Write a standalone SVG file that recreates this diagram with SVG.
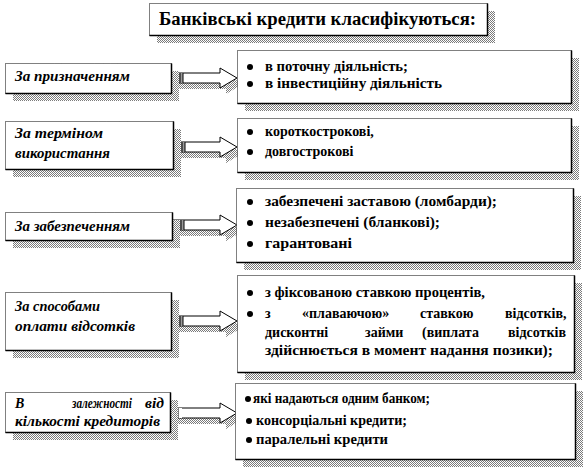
<svg xmlns="http://www.w3.org/2000/svg" width="585" height="471" viewBox="0 0 585 471">
<defs>
<pattern id="dith" width="2" height="2" patternUnits="userSpaceOnUse">
<rect width="2" height="2" fill="#ffffff"/>
<rect x="0" y="0" width="1" height="1" fill="#7a7a7a"/>
<rect x="1" y="1" width="1" height="1" fill="#7a7a7a"/>
</pattern>
</defs>
<style>
.sh{fill:url(#dith);stroke:none}
.bx{fill:#fff;stroke:#000;stroke-width:1;stroke-dasharray:1 1}
.edge{stroke:#000;stroke-width:1.5;fill:none}
.t{font-family:"Liberation Serif","DejaVu Serif",serif;font-weight:bold;font-size:14px;fill:#000}
.l{font-family:"Liberation Serif","DejaVu Serif",serif;font-weight:bold;font-style:italic;font-size:14px;fill:#000}
.ti{font-family:"Liberation Serif","DejaVu Serif",serif;font-weight:bold;font-size:18px;fill:#000}
.ar{fill:#fff;stroke:#000;stroke-width:1}
.st{stroke:#000;stroke-width:1}
.bul{fill:#000}
</style>
<rect width="585" height="471" fill="#fff"/>

<g id="title">
<rect class="sh" x="157" y="11" width="338" height="32"/>
<rect class="bx" x="149.5" y="3.5" width="338" height="32"/>
<path class="edge" d="M487.5,3.5V35.5H149.5"/>
<text class="ti" x="159" y="25" textLength="317" lengthAdjust="spacingAndGlyphs">Банківські кредити класифікуються:</text>
</g>

<g id="connectors">
<path class="sh" d="M177,78H226V74L243,84L226,94V89H177Z"/>
<path class="ar" d="M171.5,73H220V68L237,78L220,88V83H171.5Z"/>
<rect x="172" y="73" width="11" height="10" fill="#999"/>
<path class="st" d="M173,73V83M177,73V83M180,73V83M183,73V83"/>

<path class="sh" d="M179,147H226V143L243,153L226,163V158H179Z"/>
<path class="ar" d="M173.5,142H220V137L237,147L220,157V152H173.5Z"/>
<rect x="174" y="142" width="11" height="10" fill="#999"/>
<path class="st" d="M175,142V152M179,142V152M182,142V152M185,142V152"/>

<path class="sh" d="M178,225H226V221L243,231L226,241V236H178Z"/>
<path class="ar" d="M172.5,220H220V215L237,225L220,235V230H172.5Z"/>
<rect x="173" y="220" width="11" height="10" fill="#999"/>
<path class="st" d="M174,220V230M178,220V230M181,220V230M184,220V230"/>

<path class="sh" d="M177,321H226V317L243,327L226,337V332H177Z"/>
<path class="ar" d="M171.5,316H220V311L237,321L220,331V326H171.5Z"/>
<rect x="172" y="316" width="11" height="10" fill="#999"/>
<path class="st" d="M173,316V326M177,316V326M180,316V326M183,316V326"/>

<path class="sh" d="M176,413H226V409L243,419L226,429V424H176Z"/>
<path class="ar" d="M170.5,408H220V403L237,413L220,423V418H170.5Z"/>
<rect x="171" y="408" width="11" height="10" fill="#fff"/>
<path class="st" d="M172,408V418M175,408V418M178,408V418"/>
</g>

<g id="left1">
<rect class="sh" x="13" y="71" width="166" height="30"/>
<rect class="bx" x="5.5" y="63.5" width="166" height="30"/>
<path class="edge" d="M171.5,63.5V93.5H5.5"/>
<text class="l" x="15" y="81" textLength="115" lengthAdjust="spacingAndGlyphs">За призначенням</text>
</g>

<g id="left2">
<rect class="sh" x="13" y="129" width="168" height="48"/>
<rect class="bx" x="5.5" y="121.5" width="168" height="48"/>
<path class="edge" d="M173.5,121.5V169.5H5.5"/>
<text class="l" x="15" y="138" textLength="88" lengthAdjust="spacingAndGlyphs">За терміном</text>
<text class="l" x="15" y="158" textLength="95" lengthAdjust="spacingAndGlyphs">використання</text>
</g>

<g id="left3">
<rect class="sh" x="13" y="220" width="167" height="28"/>
<rect class="bx" x="5.5" y="212.5" width="167" height="28"/>
<path class="edge" d="M172.5,212.5V240.5H5.5"/>
<text class="l" x="15" y="231" textLength="115" lengthAdjust="spacingAndGlyphs">За забезпеченням</text>
</g>

<g id="left4">
<rect class="sh" x="13" y="300" width="166" height="58"/>
<rect class="bx" x="5.5" y="292.5" width="166" height="58"/>
<path class="edge" d="M171.5,292.5V350.5H5.5"/>
<text class="l" x="15" y="311" textLength="85" lengthAdjust="spacingAndGlyphs">За способами</text>
<text class="l" x="15" y="331" textLength="120" lengthAdjust="spacingAndGlyphs">оплати відсотків</text>
</g>

<g id="left5">
<rect class="sh" x="13" y="400" width="165" height="40"/>
<rect class="bx" x="5.5" y="392.5" width="165" height="40"/>
<path class="edge" d="M170.5,392.5V432.5H5.5"/>
<text class="l" x="15" y="408">В</text>
<text class="l" x="72" y="408" textLength="60" lengthAdjust="spacingAndGlyphs">залежності</text>
<text class="l" x="145" y="408" textLength="19" lengthAdjust="spacingAndGlyphs">від</text>
<text class="l" x="15" y="426" textLength="145" lengthAdjust="spacingAndGlyphs">кількості кредиторів</text>
</g>

<g id="right1">
<rect class="sh" x="245" y="58" width="334" height="53"/>
<rect class="bx" x="237.5" y="50.5" width="334" height="53"/>
<path class="edge" d="M571.5,50.5V103.5H237.5"/>
<circle class="bul" cx="250" cy="67" r="3"/>
<circle class="bul" cx="250" cy="84" r="3"/>
<text class="t" x="265" y="71" textLength="143" lengthAdjust="spacingAndGlyphs">в поточну діяльність;</text>
<text class="t" x="265" y="88" textLength="177" lengthAdjust="spacingAndGlyphs">в інвестиційну діяльність</text>
</g>

<g id="right2">
<rect class="sh" x="245" y="126" width="334" height="54"/>
<rect class="bx" x="237.5" y="118.5" width="334" height="54"/>
<path class="edge" d="M571.5,118.5V172.5H237.5"/>
<circle class="bul" cx="250" cy="132" r="3"/>
<circle class="bul" cx="250" cy="152" r="3"/>
<text class="t" x="265" y="136">короткострокові,</text>
<text class="t" x="265" y="156">довгострокові</text>
</g>

<g id="right3">
<rect class="sh" x="244" y="196" width="337" height="74"/>
<rect class="bx" x="236.5" y="188.5" width="337" height="74"/>
<path class="edge" d="M573.5,188.5V262.5H236.5"/>
<circle class="bul" cx="250" cy="202" r="3"/>
<circle class="bul" cx="250" cy="223" r="3"/>
<circle class="bul" cx="250" cy="244" r="3"/>
<text class="t" x="265" y="206" textLength="232" lengthAdjust="spacingAndGlyphs">забезпечені заставою (ломбарди);</text>
<text class="t" x="265" y="227" textLength="175" lengthAdjust="spacingAndGlyphs">незабезпечені (бланкові);</text>
<text class="t" x="265" y="248" textLength="87" lengthAdjust="spacingAndGlyphs">гарантовані</text>
</g>

<g id="right4">
<rect class="sh" x="245" y="283" width="337" height="97"/>
<rect class="bx" x="237.5" y="275.5" width="337" height="97"/>
<path class="edge" d="M574.5,275.5V372.5H237.5"/>
<circle class="bul" cx="250" cy="293" r="3"/>
<circle class="bul" cx="250" cy="314" r="3"/>
<text class="t" x="265" y="297" textLength="220" lengthAdjust="spacingAndGlyphs">з фіксованою ставкою процентів,</text>
<text class="t" y="318"><tspan x="265">з</tspan><tspan x="302">«плаваючою»</tspan><tspan x="420">ставкою</tspan><tspan x="505">відсотків,</tspan></text>
<text class="t" y="337"><tspan x="265">дисконтні</tspan><tspan x="365">займи</tspan><tspan x="422">(виплата</tspan><tspan x="508">відсотків</tspan></text>
<text class="t" x="265" y="355" textLength="288" lengthAdjust="spacingAndGlyphs">здійснюється в момент надання позики);</text>
</g>

<g id="right5">
<rect class="sh" x="243" y="391" width="340" height="76"/>
<rect class="bx" x="235.5" y="383.5" width="340" height="76"/>
<path class="edge" d="M575.5,383.5V459.5H235.5"/>
<circle class="bul" cx="248" cy="399" r="3"/>
<circle class="bul" cx="249" cy="421" r="3"/>
<circle class="bul" cx="249" cy="440" r="3"/>
<text class="t" x="253" y="403" textLength="177" lengthAdjust="spacingAndGlyphs">які надаються одним банком;</text>
<text class="t" x="256" y="425" textLength="151" lengthAdjust="spacingAndGlyphs">консорціальні кредити;</text>
<text class="t" x="256" y="444" textLength="132" lengthAdjust="spacingAndGlyphs">паралельні кредити</text>
</g>
</svg>
